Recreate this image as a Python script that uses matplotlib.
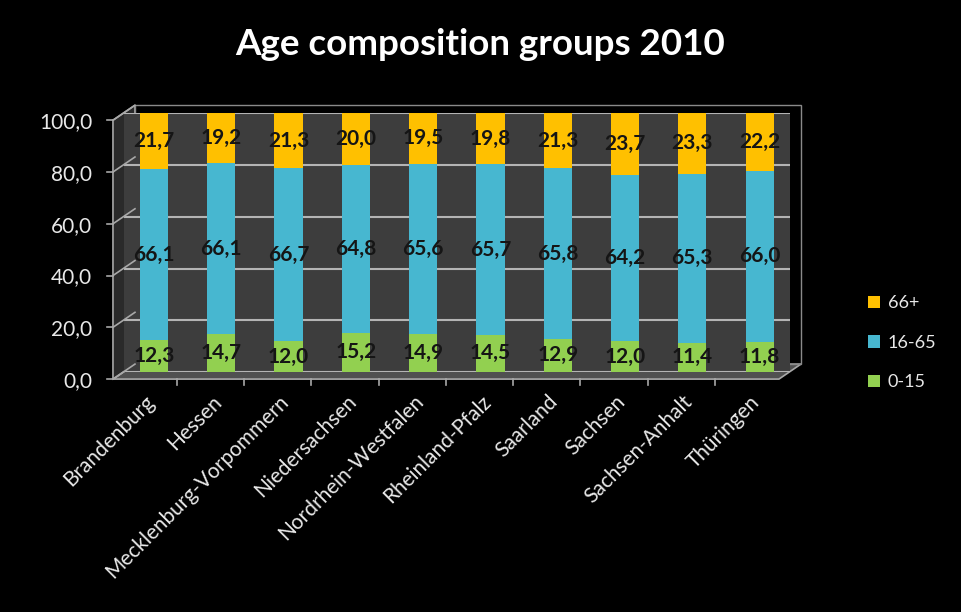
import matplotlib.pyplot as plt
import matplotlib.transforms as mtransforms
from matplotlib.patches import Polygon
from matplotlib.lines import Line2D
import numpy as np

# Data
states = ['Brandenburg', 'Hessen', 'Mecklenburg-Vorpommern', 'Niedersachsen',
          'Nordrhein-Westfalen', 'Rheinland-Pfalz', 'Saarland', 'Sachsen',
          'Sachsen-Anhalt', 'Thüringen']
age_0_15 = [12.3, 14.7, 12.0, 15.2, 14.9, 14.5, 12.9, 12.0, 11.4, 11.8]
age_16_65 = [66.1, 66.1, 66.7, 64.8, 65.6, 65.7, 65.8, 64.2, 65.3, 66.0]
age_66_plus = [21.7, 19.2, 21.3, 20.0, 19.5, 19.8, 21.3, 23.7, 23.3, 22.2]
yticks = [0, 20, 40, 60, 80, 100]

plt.rcParams['font.family'] = ['Lato', 'DejaVu Sans']

fig = plt.figure(figsize=(9.61, 6.12), dpi=100, facecolor='black')
ax = fig.add_axes([0.129, 0.392, 0.693, 0.423])
ax.set_facecolor('#3d3d3d')

x = np.arange(len(states))
w = 0.42
series = [('0-15', age_0_15, '#92D050'),
          ('16-65', age_16_65, '#47B7D0'),
          ('66+', age_66_plus, '#FFC000')]
bottom = np.zeros(len(states))
for name, vals, col in series:
    vals = np.array(vals)
    ax.bar(x, vals, w, bottom=bottom, color=col, label=name, zorder=3)
    for xi, b, v in zip(x, bottom, vals):
        ax.text(xi, b + v / 2, f'{v:.1f}'.replace('.', ','), ha='center',
                va='center', fontsize=15, fontweight='bold', color='#151515',
                zorder=4)
    bottom += vals

x0, x1 = -0.446, 9.45
ax.set_ylim(0, 100)
ax.set_xlim(x0, x1)
ax.set_yticks(yticks)
ax.set_yticklabels([f'{v:.1f}'.replace('.', ',') for v in yticks])
ax.yaxis.grid(True, color='#b4b4b4', linewidth=1.5, zorder=1)
ax.set_xticks(x)
ax.set_xticklabels(states, rotation=45, ha='right', rotation_mode='anchor')
ax.tick_params(axis='y', colors='#e8e8e8', labelsize=15, length=0, pad=23)
ax.tick_params(axis='x', colors='#e8e8e8', labelsize=15, length=0, pad=14)
for lab in ax.get_yticklabels():
    lab.set_transform(lab.get_transform() +
                      mtransforms.ScaledTranslation(0, -0.07, fig.dpi_scale_trans))
for lab in ax.get_xticklabels():
    lab.set_transform(lab.get_transform() +
                      mtransforms.ScaledTranslation(-0.1, 0, fig.dpi_scale_trans))
for s in ax.spines.values():
    s.set_visible(False)

# pseudo-3D walls (offsets in pixels from the bar plane)
front = np.array([-11, -7])
back = np.array([11, 8])
inv = fig.transFigure.inverted()


def pt(xd, yd, off):
    return inv.transform(ax.transData.transform((xd, yd)) + off)


floor = Polygon([pt(x0, 0, back), pt(x1, 0, back), pt(x1, 0, front), pt(x0, 0, front)],
                closed=True, transform=fig.transFigure, facecolor='#505050',
                edgecolor='#a8a8a8', linewidth=1.2, zorder=0)
fig.add_artist(floor)
wall = Polygon([pt(x0, 0, front), pt(x0, 100, front), pt(x0, 100, back), pt(x0, 0, back)],
               closed=True, transform=fig.transFigure, facecolor='#2a2a2a',
               edgecolor='#a8a8a8', linewidth=1.2, zorder=0)
fig.add_artist(wall)
top = Polygon([pt(x0, 100, back), pt(x1, 100, back), pt(x1, 0, back), pt(x0, 0, back)],
              closed=True, transform=fig.transFigure, facecolor='none',
              edgecolor='#8a8a8a', linewidth=1.0, zorder=0)
fig.add_artist(top)
for yv in yticks:
    a, b = pt(x0, yv, front), pt(x0, yv, back)
    fig.add_artist(Line2D([a[0], b[0]], [a[1], b[1]], transform=fig.transFigure,
                          color='#a8a8a8', linewidth=1.2))
    c = pt(x0, yv, front + np.array([-6, 0]))
    fig.add_artist(Line2D([c[0], a[0]], [c[1], a[1]], transform=fig.transFigure,
                          color='#a8a8a8', linewidth=1.2))
for xb in np.arange(len(states) + 1) - 0.5:
    if x0 <= xb <= x1:
        a = pt(xb, 0, front)
        c = pt(xb, 0, front + np.array([0, -6]))
        fig.add_artist(Line2D([a[0], c[0]], [a[1], c[1]], transform=fig.transFigure,
                              color='#a8a8a8', linewidth=1.2))

fig.suptitle('Age composition groups 2010', color='white', fontsize=26.5,
             fontweight='bold', y=0.955)

handles, labels = ax.get_legend_handles_labels()
leg = fig.legend(handles[::-1], labels[::-1], loc='center left',
                 bbox_to_anchor=(0.886, 0.44), frameon=False, fontsize=13,
                 handlelength=0.7, handleheight=0.7, labelspacing=1.3,
                 handletextpad=0.4)
for t in leg.get_texts():
    t.set_color('#e8e8e8')

fig.savefig('out.png', dpi=100, facecolor='black')
